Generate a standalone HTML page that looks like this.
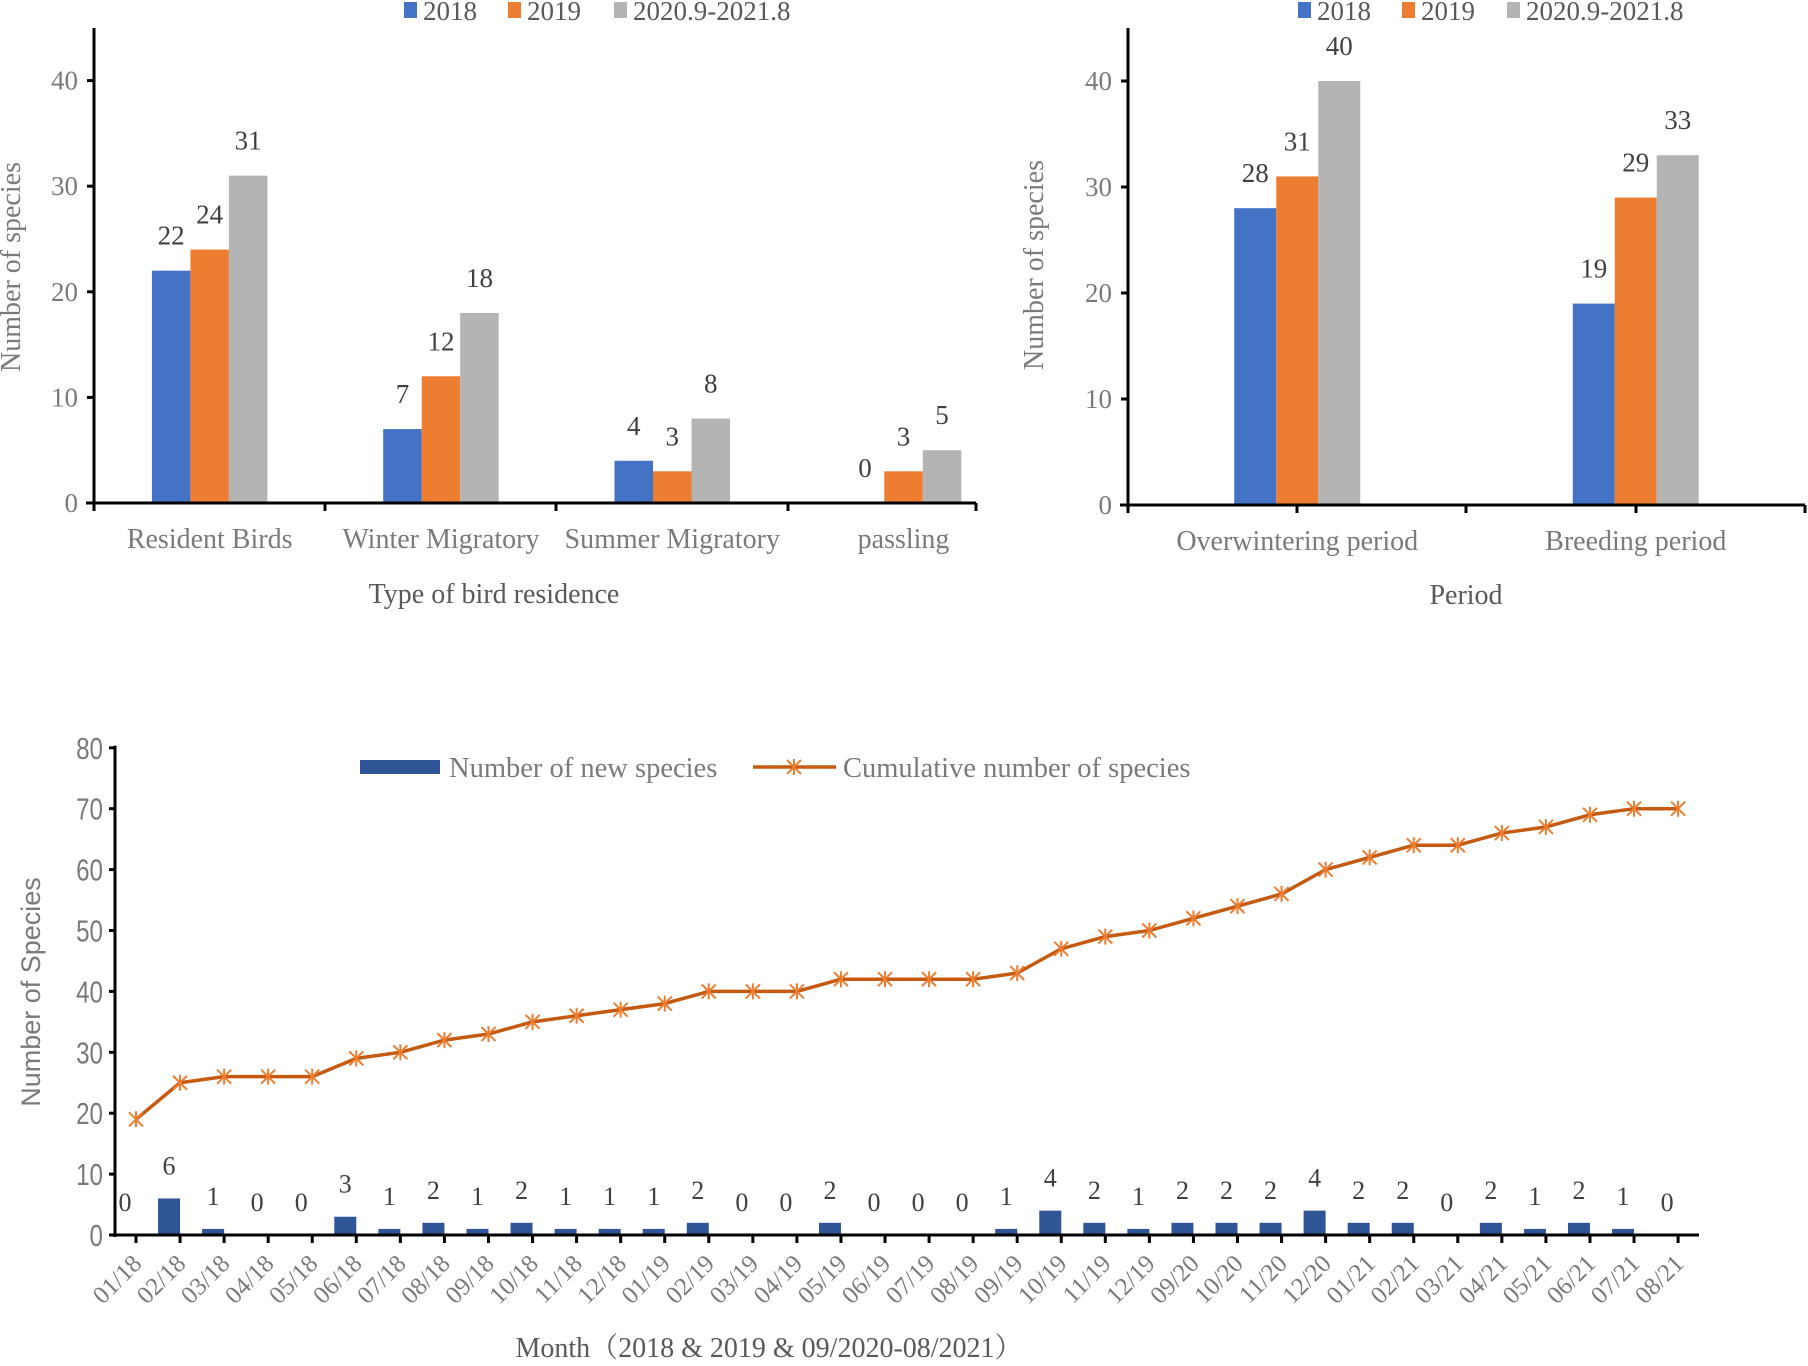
<!DOCTYPE html>
<html><head><meta charset="utf-8"><style>
html,body{margin:0;padding:0;background:#fff;}
svg{display:block;font-family:"Liberation Serif",serif;}
</style></head>
<body>
<svg id="s" width="1808" height="1366" viewBox="0 0 1808 1366" xmlns="http://www.w3.org/2000/svg"></svg>
<script>
// ---- Chart A data ----
const catsA = ["Resident Birds","Winter Migratory","Summer Migratory","passling"];
const a2018 = [22,7,4,0];
const a2019 = [24,12,3,3];
const a2020 = [31,18,8,5];
// ---- Chart B data ----
const catsB = ["Overwintering period","Breeding  period"];
const b2018 = [28,19];
const b2019 = [31,29];
const b2020 = [40,33];
// ---- Chart C data ----
const months = ["01/18","02/18","03/18","04/18","05/18","06/18","07/18","08/18","09/18","10/18","11/18","12/18","01/19","02/19","03/19","04/19","05/19","06/19","07/19","08/19","09/19","10/19","11/19","12/19","09/20","10/20","11/20","12/20","01/21","02/21","03/21","04/21","05/21","06/21","07/21","08/21"];
const newSpecies = [0,6,1,0,0,3,1,2,1,2,1,1,1,2,0,0,2,0,0,0,1,4,2,1,2,2,2,4,2,2,0,2,1,2,1,0];
const cumulative = [19,25,26,26,26,29,30,32,33,35,36,37,38,40,40,40,42,42,42,42,43,47,49,50,52,54,56,60,62,64,64,66,67,69,70,70];
const ticksAB = [0,10,20,30,40];
const ticksC = [0,10,20,30,40,50,60,70,80];
const seriesNames = ["2018","2019","2020.9-2021.8"];
const colors = ["#4472C4","#ED7D31","#B4B4B4"];

const S = document.getElementById('s');
const NS = "http://www.w3.org/2000/svg";
const SERIF = '"Liberation Serif", "Noto Serif CJK SC", serif';
function mk(tag, attrs, parent, txt){
  const e = document.createElementNS(NS, tag);
  if (tag === 'text' && !attrs['font-family']) e.setAttribute('font-family', SERIF);
  for (const k in attrs) e.setAttribute(k, attrs[k]);
  if (txt !== undefined) e.textContent = txt;
  (parent || S).appendChild(e);
  return e;
}
const TXT = "#595959";
const TICK = "#7a7a7a";

function groupChart(o){
  const g = mk('g', {});
  
  
  const y = v => o.y0 - v * o.unit;
  const catW = o.catW;
  o.ticks.forEach(t => {
    const l = mk('line', {x1:o.x0-7, x2:o.x0, y1:y(t), y2:y(t), stroke:'#000','stroke-width':3}, g);
    
    
    const tx = mk('text', {x:o.x0-16, y:y(t)+9, 'text-anchor':'end','font-size':27, fill:TICK}, g, String(t));
    
    
  });
  const bw = o.bw;
  const series = [o.s1,o.s2,o.s3];
  o.cats.forEach((c, i) => {
    const cx = o.x0 + catW*(i+0.5);
    series.forEach((arr, s) => {
      const bx = cx - 1.5*bw + s*bw;
      const r = mk('rect', {x:bx, y:y(arr[i]), width:bw, height:arr[i]*o.unit, fill:colors[s]}, g);
      
      
      const lt = mk('text', {x:bx+bw/2, y:y(arr[i])-26, 'text-anchor':'middle','font-size':27, fill:'#404040'}, g, String(arr[i]));
      
      
    });
    const cl = mk('text', {x:cx, y:o.catY, 'text-anchor':'middle','font-size':28, fill:TICK}, g, c);
    
    
  });
  o.xt.forEach(xx => {
    const l = mk('line', {x1:xx, x2:xx, y1:o.y0, y2:o.y0+8, stroke:'#000','stroke-width':3}, g);
    
    
  });
  const ax = mk('line', {x1:o.x0, x2:o.x0, y1:o.yTop, y2:o.y0+2, stroke:'#000','stroke-width':3}, g);
  
  
  const bx = mk('line', {x1:o.x0-8, x2:o.xEnd, y1:o.y0, y2:o.y0, stroke:'#000','stroke-width':3}, g);
  
  
  const xt = mk('text', {x:o.xTitleX, y:o.xTitleY, 'text-anchor':'middle','font-size':28, fill:TXT}, g, o.xTitle);
  
  
  const yt = mk('text', {x:0, y:0, 'text-anchor':'middle','font-size':28, fill:TICK, transform:`translate(${o.yTitleX},${o.yTitleY}) rotate(-90)`}, g, 'Number of species');
  
  
  o.leg.forEach((lx, s) => {
    const r = mk('rect', {x:lx, y:2, width:13, height:16, fill:colors[s]}, g);
    
    
    const t = mk('text', {x:lx+19, y:20, 'font-size':27, fill:TXT}, g, seriesNames[s]);
    
    
  });
}

groupChart({name:'chart-residence-type', cats:catsA, s1:a2018, s2:a2019, s3:a2020,
  x0:94, xEnd:976, catW:231.3, y0:503, yTop:28, unit:10.56, bw:38.5, ticks:ticksAB,
  xt:[94,325,556,788,976], catY:548, xTitle:'Type of bird residence', xTitleX:494, xTitleY:603,
  yTitleX:20, yTitleY:267, leg:[404,508,614]});

groupChart({name:'chart-period', cats:catsB, s1:b2018, s2:b2019, s3:b2020,
  x0:1128, xEnd:1805, catW:338.5, y0:505, yTop:28, unit:10.6, bw:42, ticks:ticksAB,
  xt:[1128,1297,1466,1636,1805], catY:550, xTitle:'Period', xTitleX:1466, xTitleY:604,
  yTitleX:1043, yTitleY:265, leg:[1298,1402,1507]});

// ---- Chart C ----
(function(){
  const g = mk('g', {});
  
  
  const x0 = 115, y0 = 1235, unit = 6.09, first = 136, step = 44.06, xEnd = 1699;
  const y = v => y0 - v*unit;
  const x = i => first + i*step;
  ticksC.forEach(t => {
    const tx = x0-12;
    const l = mk('line', {x1:x0-6, x2:x0, y1:y(t), y2:y(t), stroke:'#000','stroke-width':3}, g);
    
    
    const lb = mk('text', {x:tx, y:y(t)+11, 'text-anchor':'end','font-size':31, fill:TICK,'font-family':'"Liberation Sans", sans-serif', transform:`translate(${tx},0) scale(0.78,1) translate(${-tx},0)`}, g, String(t));
    
    
  });
  months.forEach((m, i) => {
    const xi = x(i);
    const r = mk('rect', {x:xi-22, y:y(newSpecies[i]), width:22, height:newSpecies[i]*unit, fill:'#2F5597'}, g);
    
    
    const lt = mk('text', {x:xi-11, y:y(newSpecies[i])-24, 'text-anchor':'middle','font-size':26, fill:'#404040'}, g, String(newSpecies[i]));
    
    
    const tk = mk('line', {x1:xi, x2:xi, y1:y0, y2:y0+8, stroke:'#000','stroke-width':3}, g);
    
    
    const ml = mk('text', {x:0, y:0, 'text-anchor':'end','font-size':25, fill:TICK, transform:`translate(${xi+7},${y0+30}) rotate(-45)`}, g, m);
    
    
  });
  const ax = mk('line', {x1:x0, x2:x0, y1:y(80)-2, y2:y0+2, stroke:'#000','stroke-width':3}, g);
  
  
  const bx = mk('line', {x1:x0, x2:xEnd, y1:y0, y2:y0, stroke:'#000','stroke-width':3}, g);
  
  
  const pts = cumulative.map((v,i) => x(i)+','+y(v)).join(' ');
  const pl = mk('polyline', {points:pts, fill:'none', stroke:'#C55A11','stroke-width':3.5,'stroke-linejoin':'round'}, g);
  
  
  function star(cx, cy, parent){
    return mk('path', {d:`M${cx-7},${cy-7}L${cx+7},${cy+7}M${cx-7},${cy+7}L${cx+7},${cy-7}M${cx},${cy-8}L${cx},${cy+8}`, stroke:'#ED7D31','stroke-width':2, fill:'none'}, parent);
  }
  cumulative.forEach((v,i) => {
    const p = star(x(i), y(v), g);
    
    
  });
  const lr = mk('rect', {x:360, y:760, width:80, height:14, fill:'#2F5597'}, g);
  
  
  const lt1 = mk('text', {x:449, y:777, 'font-size':28.5, fill:TICK}, g, 'Number of new species');
  
  
  const ll = mk('line', {x1:753, x2:836, y1:767, y2:767, stroke:'#C55A11','stroke-width':3.5}, g);
  
  
  const ls = star(794, 767, g);
  
  
  const lt2 = mk('text', {x:843, y:777, 'font-size':28.5, fill:TICK}, g, 'Cumulative number of species');
  
  
  const xt = mk('text', {x:769, y:1357, 'text-anchor':'middle','font-size':28, fill:TXT}, g, 'Month（2018 & 2019 & 09/2020-08/2021）');
  
  
  const yt = mk('text', {x:0, y:0, 'text-anchor':'middle','font-size':27, fill:TICK,'font-family':'"Liberation Sans", sans-serif', transform:`translate(40,992) rotate(-90)`}, g, 'Number  of  Species');
  
  
})();
</script>
</body></html>
